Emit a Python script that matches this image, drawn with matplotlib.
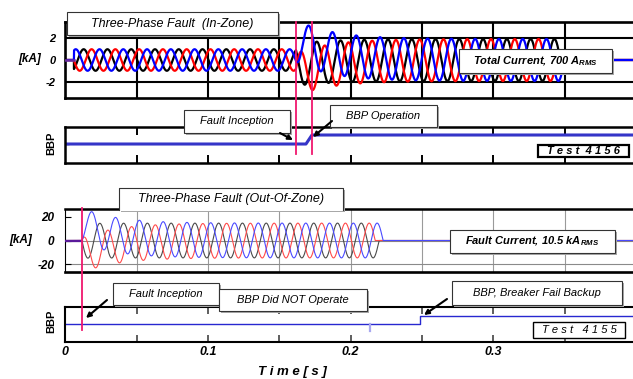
import numpy as np
import matplotlib.pyplot as plt
from matplotlib.patches import Rectangle, FancyArrowPatch
from matplotlib.lines import Line2D
from matplotlib.transforms import blended_transform_factory

plt.rcParams['font.family'] = ['Liberation Sans', 'DejaVu Sans']
plt.rcParams['mathtext.fontset'] = 'custom'
plt.rcParams['mathtext.rm'] = 'Liberation Sans'
plt.rcParams['mathtext.it'] = 'Liberation Sans:italic'
plt.rcParams['mathtext.bf'] = 'Liberation Sans:bold:italic'

W, H = 633, 379

# ---- values ----
freq = 60.0                               # Hz
phases = ['black', 'red', 'blue']          # drawing order
colors_in = {'black': '#000000', 'red': '#ff0000', 'blue': '#0000ff'}
colors_out = {'black': '#4a4a4a', 'red': '#ff4a4a', 'blue': '#4a4aff'}

# Test 4156, in-zone fault (kA, s)
iz_t_start = 0.006
iz_t_fault = 0.1617
iz_t_trip = 0.1729
iz_t_end = 0.3517
iz_pre_peak = 1.0
iz_post_peak = 1.95
iz_tau = 0.025
iz_pre_angle = {'blue': 186, 'black': 66, 'red': -54}       # deg at fault instant
iz_post_angle = {'blue': -104, 'black': -224, 'red': -344}

# Test 4155, out-of-zone fault
oz_t_fault = 0.0116
oz_t_end = 0.2241
oz_peak = 14.8                                              # 10.5 kA rms
oz_tau = 0.024
oz_angle = {'blue': -61, 'black': -181, 'red': 59}

# BBP trip outputs
bbp1_t = [0, 0.1687, 0.1729, 0.4]
bbp1_v = [0, 0, 1, 1]
bbp2_t = [0, 0.2487, 0.2487, 0.4]
bbp2_v = [0, 0, 1, 1]
bbp2_blip_t = [0.2136, 0.2136]
bbp2_blip_v = [0, -0.9]

x_ticks = [0, 0.1, 0.2, 0.3]
x_tick_labels = ['0', '0.1', '0.2', '0.3']
grid_t = [0.05, 0.1, 0.15, 0.2, 0.25, 0.3, 0.35]
iz_yticks = [2, 0, -2]
oz_yticks = [20, 0, -20]


def fx(px):
    return px / W


def fy(py):
    return 1 - py / H


t = np.linspace(0, 0.4, 16001)
w = 2 * np.pi * freq


def cut_at_zero(y, t_end):
    # breaker clears each phase at its last current zero before t_end
    idx = np.searchsorted(t, t_end)
    k = np.where(np.diff(np.sign(y[:idx])) != 0)[0][-1] + 1
    y = y.copy()
    y[k:] = 0
    return y


def in_zone(name):
    th = np.radians(iz_pre_angle[name])
    al = np.radians(iz_post_angle[name])
    tp = t - iz_t_fault
    pre = iz_pre_peak * np.sin(w * tp + th)
    dc = iz_pre_peak * np.sin(th) - iz_post_peak * np.sin(al)
    post = iz_post_peak * np.sin(w * tp + al) + dc * np.exp(-np.clip(tp, 0, None) / iz_tau)
    y = np.where(tp < 0, pre, post)
    y[t < iz_t_start] = 0
    return cut_at_zero(y, iz_t_end)


def out_zone(name):
    al = np.radians(oz_angle[name])
    tp = t - oz_t_fault
    y = oz_peak * (np.sin(w * tp + al) - np.sin(al) * np.exp(-np.clip(tp, 0, None) / oz_tau))
    y[tp < 0] = 0
    return cut_at_zero(y, oz_t_end)


fig = plt.figure(figsize=(W / 100, H / 100), dpi=100)


def add_ax(top, bottom):
    ax = fig.add_axes([fx(65.4), fy(bottom), 570.4 / W, (bottom - top) / H])
    ax.set_xlim(0, 0.4)
    ax.spines['right'].set_visible(False)
    return ax


ax1 = add_ax(22, 98)
ax2 = add_ax(127, 163)
ax3 = add_ax(209, 272)
ax4 = add_ax(307, 342)

bi = dict(fontweight='bold', fontstyle='italic')

# --- panel 1: in-zone currents ---
ax1.set_ylim(-3.53, 3.53)
for g in grid_t:
    ax1.axvline(g, color='k', lw=1.5, zorder=1)
for v in [2, -2]:
    ax1.axhline(v, color='k', lw=1.5, zorder=1)
for p in phases:
    ax1.plot(t, in_zone(p), color=colors_in[p], lw=1.6, zorder=2)
ax1.plot([0, iz_t_start], [0, 0], color='#6a2aa0', lw=1.8, zorder=3)
for s in ax1.spines.values():
    s.set_linewidth(1.9)
ax1.set_xticks([])
ax1.set_yticks(iz_yticks)
ax1.set_yticklabels([str(v) for v in iz_yticks], fontsize=8, **bi)
ax1.tick_params(axis='y', length=0, pad=7)
fig.text(fx(30), fy(59), '[kA]', fontsize=8.5, ha='center', va='center', **bi)

# --- panel 2: BBP, test 4156 ---
ax2.set_ylim(-2.11, 1.89)
ax2.plot(bbp1_t, bbp1_v, color='#3535c8', lw=2.2)
for s in ax2.spines.values():
    s.set_linewidth(1.8)
ax2.set_xticks(grid_t)
ax2.set_xticklabels([])
ax2.set_yticks([0])
ax2.set_yticklabels([])
ax2.tick_params(axis='x', direction='in', top=True, bottom=True, length=6, width=1.4)
ax2.tick_params(axis='y', direction='in', length=3, width=1)

# --- panel 3: out-of-zone currents ---
ax3.set_ylim(-26.8, 26.8)
for g in grid_t:
    ax3.axvline(g, color='#9a9a9a', lw=0.8, zorder=1)
for v in [0, -20]:
    ax3.axhline(v, color='#8a8a8a', lw=0.8, zorder=1)
for p in phases:
    ax3.plot(t, out_zone(p), color=colors_out[p], lw=0.8, zorder=2)
ax3.plot([0, oz_t_fault], [0, 0], color='#5a1a9a', lw=1.6, zorder=3)
ax3.spines['top'].set_linewidth(1.8)
ax3.spines['bottom'].set_linewidth(1.9)
ax3.spines['left'].set_linewidth(0.8)
ax3.set_xticks([])
ax3.set_yticks(oz_yticks)
ax3.set_yticklabels([str(v) for v in oz_yticks], fontsize=8.5, **bi)
ax3.tick_params(axis='y', direction='in', length=4, width=0.8, pad=8)
fig.text(fx(21), fy(240), '[kA]', fontsize=8.5, ha='center', va='center', **bi)

# --- panel 4: BBP, test 4155 ---
ax4.set_ylim(-2.25, 2.125)
ax4.plot(bbp2_t, bbp2_v, color='#2828d0', lw=1.0)
ax4.plot(bbp2_blip_t, bbp2_blip_v, color='#a8a8f0', lw=1.6)
for s in ax4.spines.values():
    s.set_linewidth(1.5)
ax4.set_xticks(x_ticks)
ax4.set_xticklabels(x_tick_labels, fontsize=9, **bi)
ax4.set_xticks([g for g in grid_t if round(g * 20) % 2], minor=True)
ax4.set_yticks([])
ax4.tick_params(axis='x', which='both', direction='in', top=True, bottom=True,
                length=5, width=1.1, color='#333333', pad=3)
fig.text(fx(292), fy(372), 'T i m e [ s ]', fontsize=9.5, ha='center', va='center', **bi)

for y, ax in [(143, ax2), (321, ax4)]:
    fig.text(fx(51), fy(y), 'BBP', rotation=90, fontsize=8, fontweight='bold',
             ha='center', va='center')

# --- fault / trip markers ---
pink = '#f0186e'
tr1 = blended_transform_factory(ax1.transData, fig.transFigure)
for tm in [iz_t_fault, iz_t_trip]:
    fig.add_artist(Line2D([tm, tm], [fy(22), fy(154)], transform=tr1, color=pink, lw=1.3, zorder=3))
tr3 = blended_transform_factory(ax3.transData, fig.transFigure)
fig.add_artist(Line2D([oz_t_fault] * 2, [fy(208), fy(330)], transform=tr3, color=pink, lw=1.3, zorder=3))


# --- annotation boxes ---
def box(x0, y0, x1, y1, text, cx=None, cy=None, lw=0.8, ec='#333333', shadow=True,
        open_bottom=False, **kw):
    if shadow:
        fig.add_artist(Rectangle((fx(x0 + 1.5), fy(y1 + 1.5)), (x1 - x0) / W, (y1 - y0) / H,
                                 transform=fig.transFigure, fc='#a8a8a8', ec='none', zorder=4))
    if open_bottom:
        fig.add_artist(Rectangle((fx(x0), fy(y1)), (x1 - x0) / W, (y1 - y0) / H,
                                 transform=fig.transFigure, fc='white', ec='none', zorder=5))
        fig.add_artist(Line2D([fx(x0), fx(x0), fx(x1), fx(x1)], [fy(y1 - 1), fy(y0), fy(y0), fy(y1 - 1)],
                              transform=fig.transFigure, color=ec, lw=lw, zorder=5))
    else:
        fig.add_artist(Rectangle((fx(x0), fy(y1)), (x1 - x0) / W, (y1 - y0) / H,
                                 transform=fig.transFigure, fc='white', ec=ec, lw=lw, zorder=5))
    cx = (x0 + x1) / 2 if cx is None else cx
    cy = (y0 + y1) / 2 if cy is None else cy
    fig.text(fx(cx), fy(cy), text, ha='center', va='center', zorder=6, **kw)


def arrow(x0, y0, x1, y1):
    fig.add_artist(FancyArrowPatch((fx(x0), fy(y0)), (fx(x1), fy(y1)), transform=fig.transFigure,
                                   arrowstyle='-|>', mutation_scale=7, lw=1.5, color='k',
                                   shrinkA=0, shrinkB=0, zorder=7))


box(67, 12, 278, 35, 'Three-Phase Fault  (In-Zone)', fontsize=9, fontstyle='italic')
box(459, 49, 612, 73, r'Total Current, 700 A$_{\mathbf{RMS}}$', fontsize=8, **bi)
box(184, 110, 290, 133, 'Fault Inception', fontsize=8, fontstyle='italic')
box(330, 105, 437, 127, 'BBP Operation', fontsize=8, fontstyle='italic')
arrow(280, 133, 293, 140)
arrow(332, 121, 313, 137)
box(538, 145, 629, 157, 'T e s t  4 1 5 6', lw=1.6, ec='k', shadow=False, fontsize=8, **bi)

box(119, 188, 343, 210.5, 'Three-Phase Fault (Out-Of-Zone)', open_bottom=True,
    cy=199, fontsize=9, fontstyle='italic')
box(450, 230, 615, 253, r'Fault Current, 10.5 kA$_{\mathbf{RMS}}$', fontsize=8, **bi)
box(113, 283, 219, 305, 'Fault Inception', fontsize=8, fontstyle='italic')
box(219, 289, 367, 311, 'BBP Did NOT Operate', cy=300, fontsize=8, fontstyle='italic')
box(452, 281, 622, 305, 'BBP, Breaker Fail Backup', fontsize=8, fontstyle='italic')
arrow(107, 300, 86, 318)
arrow(447, 299, 424, 315)
box(533, 322, 625, 338, 'T e s t   4 1 5 5', lw=1.0, ec='k', shadow=False,
    fontsize=8, fontstyle='italic')

fig.savefig('out.png', dpi=100)
